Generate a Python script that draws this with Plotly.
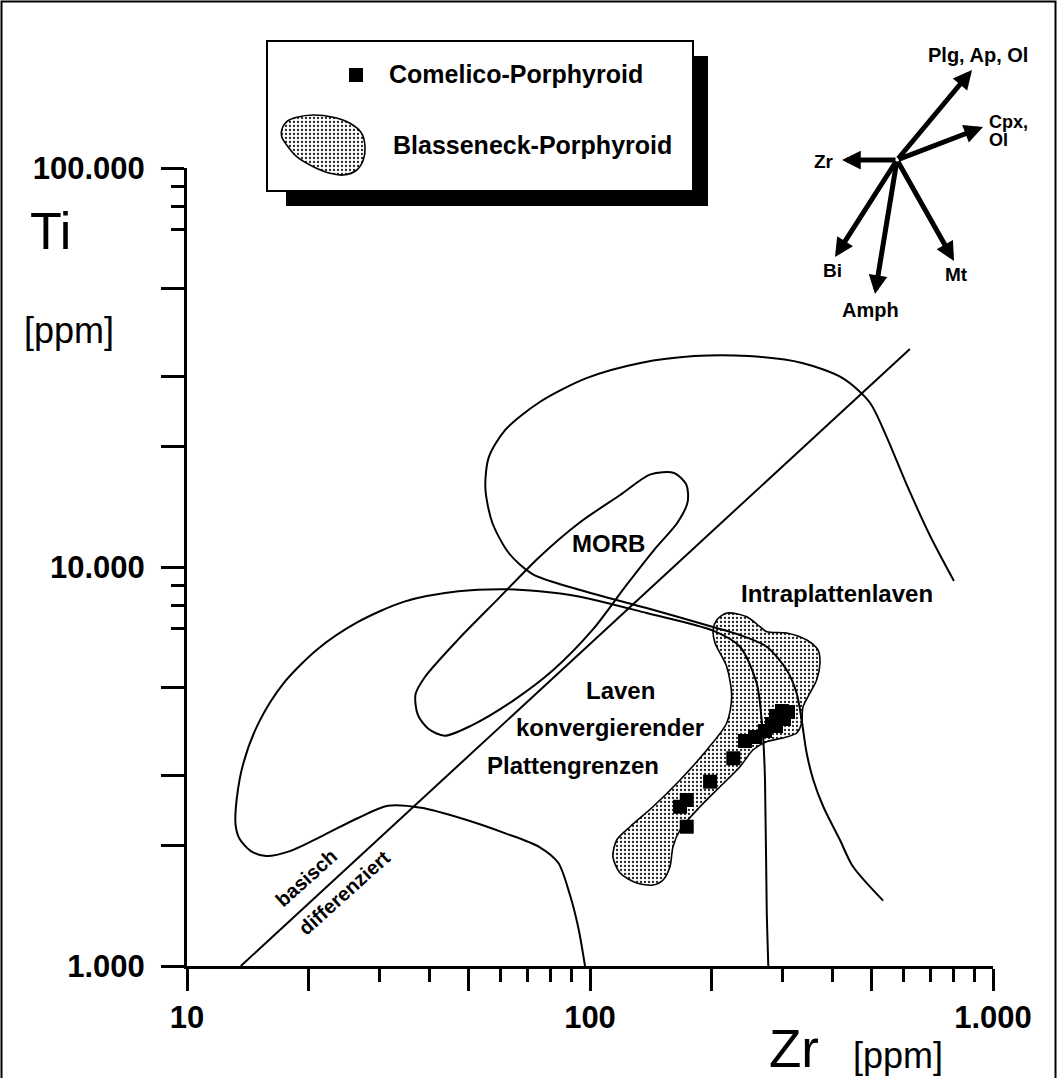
import plotly.graph_objects as go

W, H = 1057, 1078
FONT = "Liberation Sans, Arial, Helvetica, sans-serif"

# ---------------- data (Zr ppm, Ti ppm) ----------------
comelico_zr = [226.8, 198.6, 173.8, 167.3, 173.8, 242.4, 256.7, 271.8, 282.9, 289.4, 299.5, 310.0, 303.0, 289.4]
comelico_ti = [3316, 2897, 2606, 2507, 2234, 3664, 3749, 3881, 4041, 4232, 4356, 4331, 4159, 3995]

blass_zr = [202.0, 206.3, 218.4, 244.8, 264.1, 274.5, 307.7, 344.9, 367.9, 372.1, 365.1, 351.4, 337.6, 335.1,
            325.7, 301.2, 274.5, 253.8, 235.6, 210.2, 187.5, 167.3, 160.7, 157.9, 151.8, 143.3, 130.6, 118.7,
            114.0, 116.5, 125.7, 143.3, 167.3, 194.9, 218.4, 224.7, 218.4, 204.3, 202.0]
blass_ti = [6953, 7366, 7667, 7504, 7087, 6883, 6832, 6561, 6194, 5746, 5211, 4834, 4459, 4064,
            3837, 3728, 3649, 3478, 3159, 2814, 2507, 2193, 1991, 1774, 1643, 1596, 1614, 1711,
            1879, 2069, 2234, 2507, 2926, 3478, 4064, 4731, 5625, 6449, 6953]

morb_zr = [36.9, 38.9, 47.1, 59.4, 74.9, 94.3, 118.8, 141.3, 161.7, 173.4, 174.7, 164.9, 144.1, 123.5,
           101.8, 80.9, 64.1, 50.9, 43.6, 39.7, 37.4, 36.9]
morb_ti = [4794, 5294, 6585, 8357, 10600, 12930, 15150, 17070, 17200, 16080, 14560, 12930, 11030, 9045,
           6987, 5510, 4607, 4011, 3778, 3931, 4257, 4794]

intra_zr = [800.0, 698.9, 610.7, 544.1, 494.0, 423.6, 336.1, 247.0, 181.5, 133.4, 98.0, 74.9, 61.7, 56.1,
            55.0, 57.2, 63.0, 72.0, 94.5, 138.2, 202.0, 235.6, 274.5, 307.7, 325.7, 335.1, 344.9, 358.2,
            379.3, 417.2, 448.8, 533.7]
intra_ti = [9224, 11940, 16080, 21230, 25880, 29740, 32460, 33780, 33780, 32460, 29740, 25880, 22090, 18850,
            15770, 12930, 10810, 9598, 8759, 7892, 7074, 6753, 6313, 5520, 4826, 4135, 3413, 2926,
            2507, 2069, 1778, 1458]

conv_zr = [97.2, 93.6, 89.0, 83.4, 74.9, 61.7, 49.0, 38.1, 31.5, 26.5, 21.8, 18.0, 15.7, 14.4, 13.5,
           13.2, 13.3, 13.8, 15.1, 17.3, 21.0, 26.5, 34.6, 47.1, 61.7, 74.9, 94.5, 138.2, 202.0, 235.6,
           259.2, 266.7, 269.2, 271.8, 274.5, 277.0]
conv_ti = [1000, 1244, 1517, 1814, 1987, 2150, 2329, 2492, 2520, 2346, 2126, 1941, 1887, 1941, 2084,
           2256, 2645, 3224, 4091, 5088, 6204, 7273, 8191, 8692, 8799, 8692, 8427, 7667, 6925, 6313,
           5111, 4135, 3685, 2926, 1381, 1000]

trend_zr = [13.6, 622]
trend_ti = [1000, 35200]

x_major = [10, 20, 50, 100, 200, 500, 1000]
x_major_text = ["10", "", "", "100", "", "", "1.000"]
x_minor = [30, 40, 60, 70, 80, 90, 300, 400, 600, 700, 800, 900]
y_major = [1000, 2000, 3000, 5000, 10000, 20000, 30000, 50000, 100000]
y_major_text = ["1.000", "", "", "", "10.000", "", "", "", "100.000"]
y_minor = [7000, 8000, 9000, 70000, 80000, 90000]

# vector diagram (screen pixels): centre and arrow tips
vec_center = (897, 160)
vec_names = ["Zr", "Bi", "Amph", "Mt", "Cpx", "Plg"]
vec_tip_x = [842, 835, 875, 954, 983, 972]
vec_tip_y = [160, 257, 294, 261, 127, 70]

# legend glyph outline (screen pixels)
glyph_x = [281.7, 286.7, 296.7, 313.3, 333.3, 350, 361.7, 365, 363.3, 356.7, 343.3, 330, 313.3, 296.7, 286.7, 281.7]
glyph_y = [130, 121.7, 117.3, 115, 117.3, 123.3, 133.3, 146.7, 160, 170, 175, 173.3, 166.7, 156.7, 145, 136.7]

# ---------------- figure ----------------
def px(x):
    return x / W


def py(y):
    return 1 - y / H


fig = go.Figure()

pattern = dict(shape=".", fgcolor="#222222", bgcolor="white", size=4, solidity=0.26)

fig.add_trace(go.Scatter(x=blass_zr, y=blass_ti, mode="lines", fill="toself", fillpattern=pattern,
                         line=dict(color="black", width=1.6, shape="spline", smoothing=0.8),
                         hoverinfo="skip", showlegend=False))
for xs, ys in [(morb_zr, morb_ti), (intra_zr, intra_ti), (conv_zr, conv_ti)]:
    fig.add_trace(go.Scatter(x=xs, y=ys, mode="lines",
                             line=dict(color="black", width=2, shape="spline", smoothing=0.8),
                             hoverinfo="skip", showlegend=False))
fig.add_trace(go.Scatter(x=trend_zr, y=trend_ti, mode="lines", line=dict(color="black", width=2),
                         hoverinfo="skip", showlegend=False))
fig.add_trace(go.Scatter(x=comelico_zr, y=comelico_ti, mode="markers",
                         marker=dict(symbol="square", size=14, color="black"),
                         hoverinfo="skip", showlegend=False))

# legend glyphs on a pixel overlay axis
fig.add_trace(go.Scatter(x=glyph_x + [glyph_x[0]], y=glyph_y + [glyph_y[0]], mode="lines", fill="toself",
                         fillpattern=pattern, line=dict(color="black", width=1.6, shape="spline"),
                         xaxis="x2", yaxis="y2", hoverinfo="skip", showlegend=False))
fig.add_trace(go.Scatter(x=[356], y=[75], mode="markers", marker=dict(symbol="square", size=14, color="black"),
                         xaxis="x2", yaxis="y2", hoverinfo="skip", showlegend=False))

shapes = [
    # outer frame
    dict(type="rect", xref="paper", yref="paper", x0=px(1.5), x1=px(1055.5), y0=py(1090), y1=py(1.5),
         line=dict(color="black", width=2), layer="below"),
    # legend shadow + box
    dict(type="rect", xref="paper", yref="paper", x0=px(286), x1=px(708), y0=py(206), y1=py(56),
         line=dict(width=0), fillcolor="black", layer="below"),
    dict(type="rect", xref="paper", yref="paper", x0=px(267), x1=px(693), y0=py(191), y1=py(41),
         line=dict(color="black", width=2), fillcolor="white", layer="below"),
]

annotations = []


def txt(s, x, y, size, bold=True, angle=0, xanchor="center"):
    annotations.append(dict(text=("<b>%s</b>" % s) if bold else s, xref="paper", yref="paper",
                            x=px(x), y=py(y), showarrow=False, textangle=angle,
                            xanchor=xanchor, yanchor="middle",
                            font=dict(family=FONT, size=size, color="black")))


# arrows of the vector diagram
for name, tx, ty in zip(vec_names, vec_tip_x, vec_tip_y):
    annotations.append(dict(text="", xref="paper", yref="paper", x=px(tx), y=py(ty),
                            ax=vec_center[0] - tx, ay=vec_center[1] - ty, axref="pixel", ayref="pixel",
                            showarrow=True, arrowhead=2, arrowsize=0.75, arrowwidth=5,
                            arrowcolor="black", standoff=0, startstandoff=0))

txt("Zr", 824, 161, 19)
txt("Bi", 832, 270, 19)
txt("Amph", 870, 310, 20)
txt("Mt", 956, 275, 19)
txt("Cpx,", 987, 122, 18, xanchor="left")
txt("Ol", 987, 140, 18, xanchor="left")
txt("Plg, Ap, Ol", 978, 55, 20)

txt("Comelico-Porphyroid", 387, 74, 25, xanchor="left")
txt("Blasseneck-Porphyroid", 391, 145, 25, xanchor="left")

txt("MORB", 608, 543, 24)
txt("Intraplattenlaven", 837, 593, 24)
txt("Laven", 620, 690, 24)
txt("konvergierender", 610, 727, 24)
txt("Plattengrenzen", 573, 765, 24)
txt("basisch", 306, 878, 20, angle=-42)
txt("differenziert", 344, 893, 20, angle=-42)

txt("Ti", 50, 231, 52, bold=False)
txt("[ppm]", 69, 330, 36, bold=False)
txt("Zr", 794, 1048, 53, bold=False)
txt("[ppm]", 898, 1055, 36, bold=False)

tickfont = dict(family=FONT, size=31, color="black", weight="bold")

fig.update_layout(
    width=W, height=H, margin=dict(l=0, r=0, t=0, b=0),
    paper_bgcolor="white", plot_bgcolor="rgba(0,0,0,0)",
    showlegend=False, template=None,
    xaxis=dict(type="log", range=[1, 3], domain=[187 / W, 993 / W], anchor="y",
               tickmode="array", tickvals=x_major, ticktext=x_major_text,
               ticks="outside", ticklen=22, tickwidth=3, tickcolor="black",
               showline=True, linewidth=3, linecolor="black", showgrid=False, zeroline=False,
               tickfont=tickfont, ticklabelstandoff=0, automargin=False, fixedrange=True,
               minor=dict(tickmode="array", tickvals=x_minor, ticks="outside", ticklen=13,
                          tickwidth=3, tickcolor="black", showgrid=False)),
    yaxis=dict(type="log", range=[3, 5], domain=[1 - 966 / H, 1 - 168 / H], anchor="x",
               tickmode="array", tickvals=y_major, ticktext=y_major_text,
               ticks="outside", ticklen=23, tickwidth=3, tickcolor="black",
               showline=True, linewidth=3, linecolor="black", showgrid=False, zeroline=False,
               tickfont=tickfont, ticklabelstandoff=10, automargin=False, fixedrange=True,
               minor=dict(tickmode="array", tickvals=y_minor, ticks="outside", ticklen=13,
                          tickwidth=3, tickcolor="black", showgrid=False)),
    xaxis2=dict(domain=[0, 1], range=[0, W], anchor="y2", visible=False, fixedrange=True, automargin=False),
    yaxis2=dict(domain=[0, 1], range=[H, 0], anchor="x2", visible=False, fixedrange=True, automargin=False),
    shapes=shapes, annotations=annotations,
)

fig.write_html("out.html", config={"displayModeBar": False},
               post_script="document.body.style.margin='0px';document.body.style.overflow='hidden';")
